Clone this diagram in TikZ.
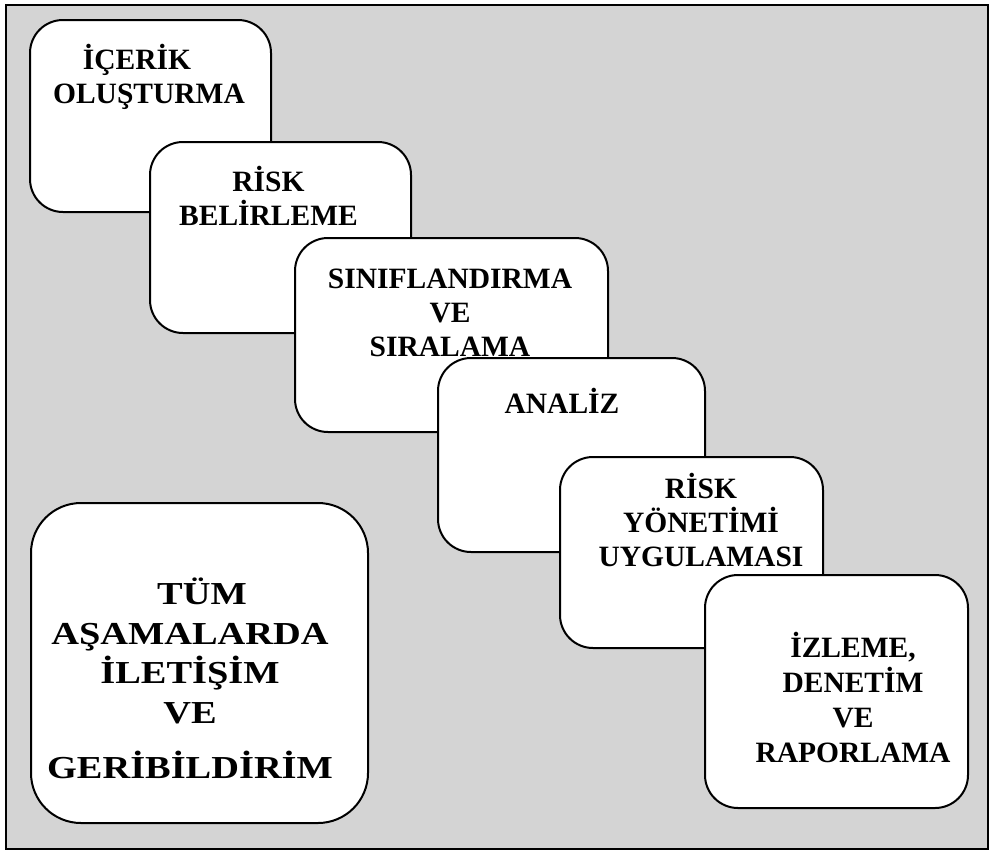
\documentclass[tikz,border=0pt]{standalone}
\usepackage{fontspec}
\setmainfont{Liberation Serif}
\newfontfamily\widefont[FakeStretch=1.2]{Liberation Serif}
\definecolor{panelgray}{HTML}{D4D4D4}
\begin{document}
\begin{tikzpicture}[x=1pt,y=-1pt,
  stagebox/.style={draw=black, line width=2pt, fill=white, inner sep=0pt,
    rounded corners=33pt},
  bigbox/.style={stagebox, rounded corners=50pt},
  stagetext/.style={font=\fontsize{29.5}{34}\selectfont\bfseries,
    align=center, anchor=base, inner sep=0pt},
  bigtext/.style={font=\widefont\fontsize{32}{39.5}\selectfont\bfseries,
    align=center, anchor=base, inner sep=0pt}]
\useasboundingbox (0,0) rectangle (993,852);
\fill[white] (0,0) rectangle (993,852);
% framed gray panel
\node[draw=black, line width=2pt, fill=panelgray, inner sep=0pt,
  minimum width=982pt, minimum height=844pt] (panel) at (497,427) {};

% cascading stages (text nodes are placed by the baseline of their last line)
\node[stagebox, minimum width=241pt, minimum height=192pt] (b1) at (150.5,116) {};
\node[stagetext] (t1) at (149,103) {İÇERİK\hspace*{24pt}\\OLUŞTURMA};

\node[stagebox, minimum width=261pt, minimum height=191pt] (b2) at (280.5,237.5) {};
\node[stagetext] (t2) at (268.5,225) {RİSK\\BELİRLEME};

\node[stagebox, minimum width=313pt, minimum height=194pt] (b3) at (451.5,335) {};
\node[stagetext] (t3) at (450,356) {SINIFLANDIRMA\\VE\\SIRALAMA};

\node[stagebox, minimum width=267pt, minimum height=194pt] (b4) at (571.5,455) {};
\node[stagetext] (t4) at (562,413) {ANALİZ};

\node[stagebox, minimum width=263pt, minimum height=191pt] (b5) at (691.5,552.5) {};
\node[stagetext] (t5) at (701,566) {RİSK\\YÖNETİMİ\hspace*{40pt}\\UYGULAMASI};

\node[stagebox, minimum width=263pt, minimum height=233pt] (b6) at (836.5,691.5) {};
\node[stagetext, font=\fontsize{29.5}{35}\selectfont\bfseries] (t6) at (853,762)
  {İZLEME,\\DENETİM\\VE\\RAPORLAMA};

% communication box
\node[bigbox, minimum width=337pt, minimum height=320pt] (b7) at (199.5,663) {};
\node[bigtext] (t7) at (190,778)
  {\hspace*{24pt}TÜM\\AŞAMALARDA\\İLETİŞİM\\VE\hspace*{24pt}\\[15.5pt]GERİBİLDİRİM};
\end{tikzpicture}
\end{document}
